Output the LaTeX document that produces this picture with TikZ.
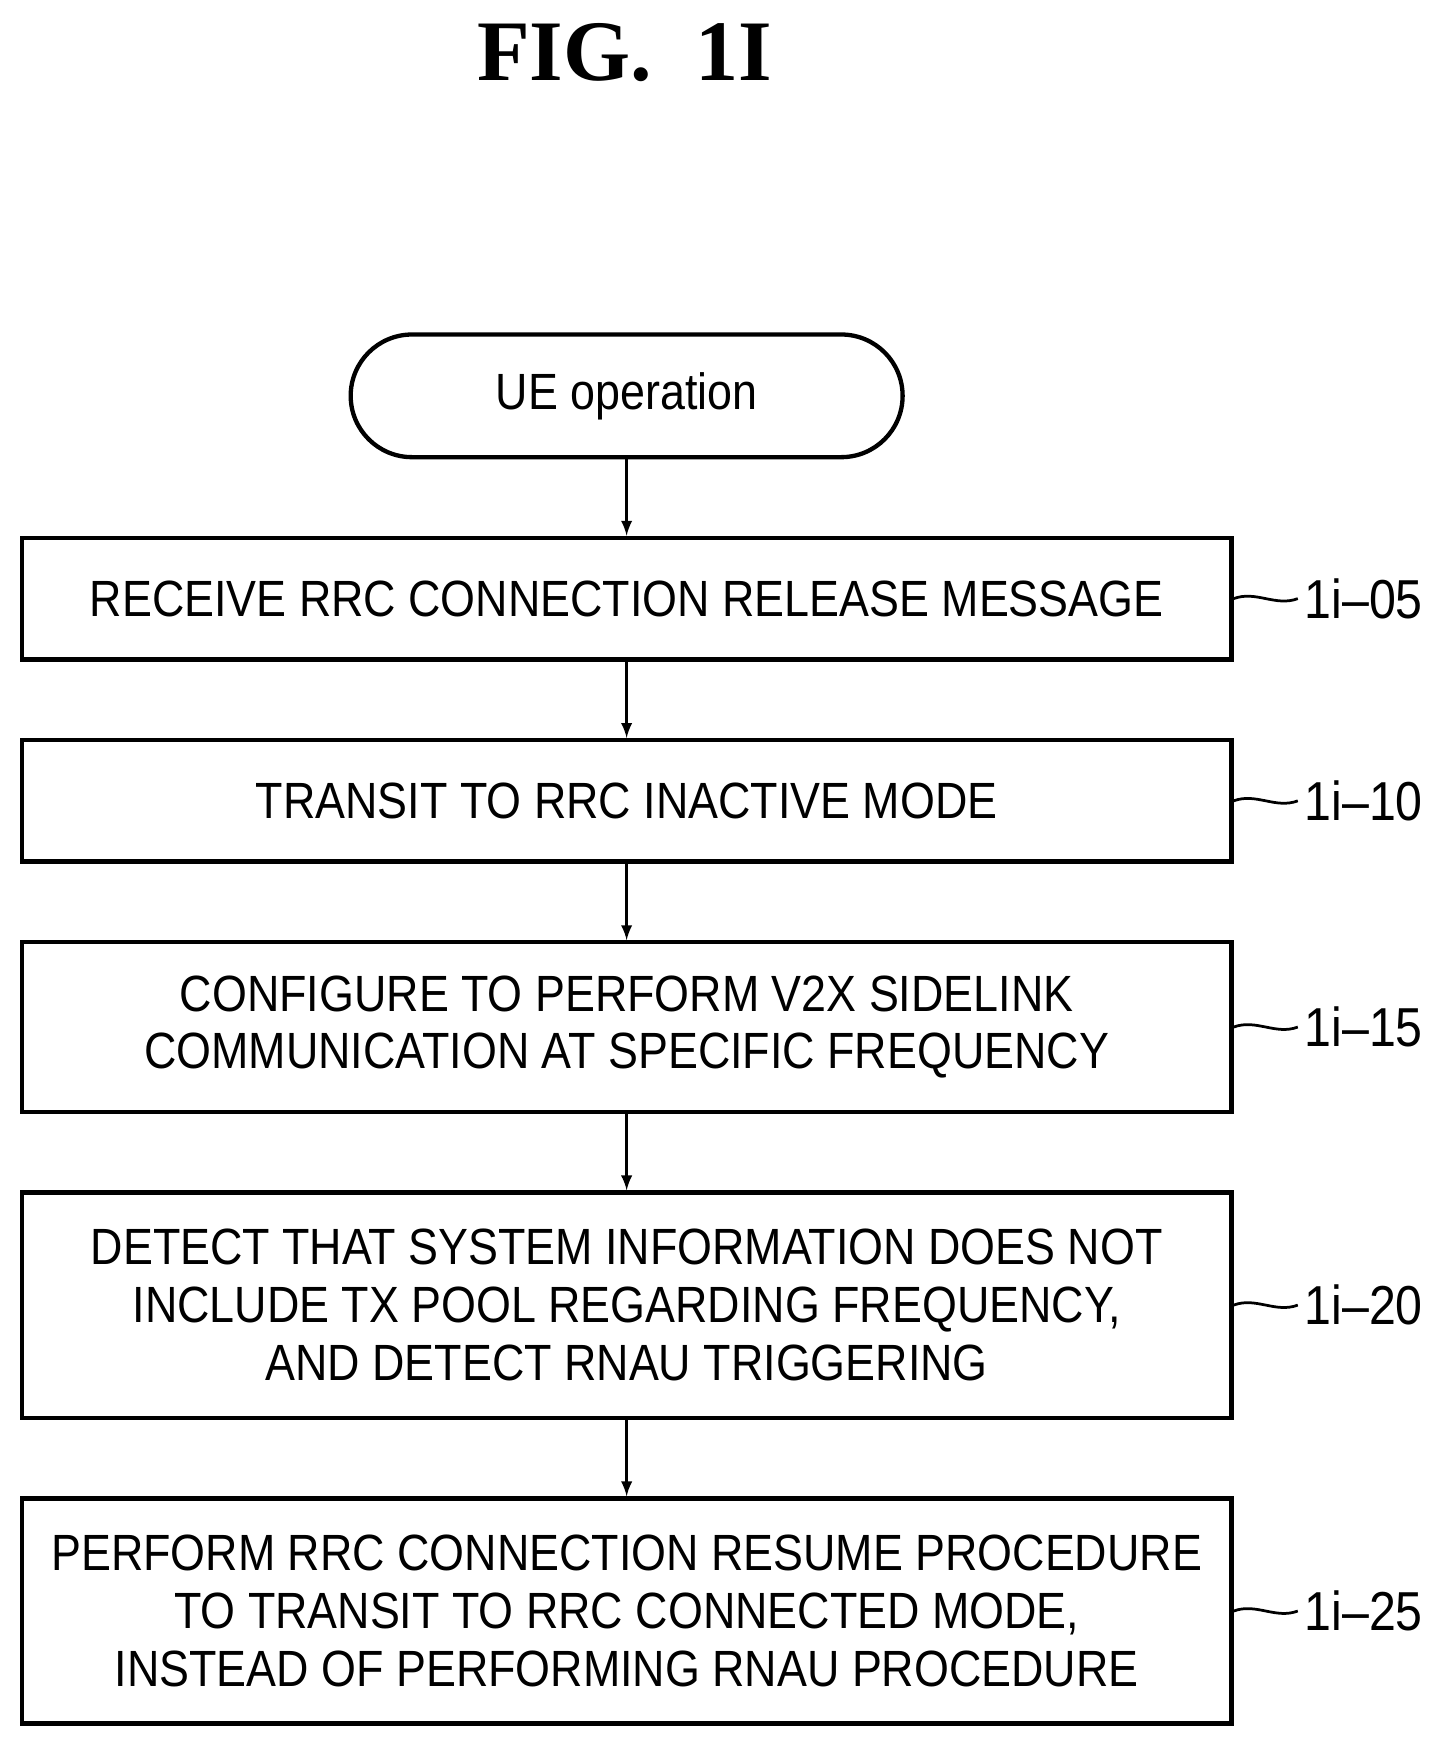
\documentclass[tikz,border=0pt]{standalone}
\usepackage{fontspec}
\setmainfont[FakeStretch=0.88]{Liberation Sans}
\newfontfamily\titlefont{Liberation Serif}
\usetikzlibrary{positioning}
\tikzset{
  procbox/.style={draw, line width=2.2pt, minimum width=21.7cm, align=center,
    font=\fontsize{26}{29.5}\selectfont},
  term/.style={draw, line width=2.2pt, rounded corners=1.1cm, minimum width=9.9cm,
    minimum height=2.2cm, font=\fontsize{26}{30}\selectfont},
  flow/.style={-latex, line width=1.6pt},
  reflabel/.style={font=\fontsize{28}{30}\selectfont, anchor=west}
}
\newcommand{\tagstep}[2]{
  \node[reflabel] (#1t) at ([xshift=1.15cm]#1.east) {#2};
  \draw[line width=1.4pt] (#1.east) .. controls +(0.4,0.15) and +(-0.4,-0.15) .. (#1t.west);
}
\begin{document}
\begin{tikzpicture}[node distance=1.37cm]
\useasboundingbox (0,0) rectangle (25.8,-31.3);

\node[font=\titlefont\bfseries\fontsize{44}{50}\selectfont] (title) at (11.2,-0.95) {FIG.\ \ 1I};

\node[term] (start) at (11.24,-7.1) {UE operation};
\node[procbox, minimum height=2.18cm, below=of start] (s05) {RECEIVE RRC CONNECTION RELEASE MESSAGE};
\node[procbox, minimum height=2.18cm, below=of s05] (s10) {TRANSIT TO RRC INACTIVE MODE};
\node[procbox, minimum height=3.04cm, below=of s10] (s15) {CONFIGURE TO PERFORM V2X SIDELINK\\COMMUNICATION AT SPECIFIC FREQUENCY};
\node[procbox, minimum height=4.04cm, below=of s15] (s20) {DETECT THAT SYSTEM INFORMATION DOES NOT\\INCLUDE TX POOL REGARDING FREQUENCY,\\AND DETECT RNAU TRIGGERING};
\node[procbox, minimum height=4.04cm, below=of s20] (s25) {PERFORM RRC CONNECTION RESUME PROCEDURE\\TO TRANSIT TO RRC CONNECTED MODE,\\INSTEAD OF PERFORMING RNAU PROCEDURE};

\draw[flow] (start) -- (s05);
\draw[flow] (s05) -- (s10);
\draw[flow] (s10) -- (s15);
\draw[flow] (s15) -- (s20);
\draw[flow] (s20) -- (s25);

\tagstep{s05}{1i--05}
\tagstep{s10}{1i--10}
\tagstep{s15}{1i--15}
\tagstep{s20}{1i--20}
\tagstep{s25}{1i--25}
\end{tikzpicture}
\end{document}
